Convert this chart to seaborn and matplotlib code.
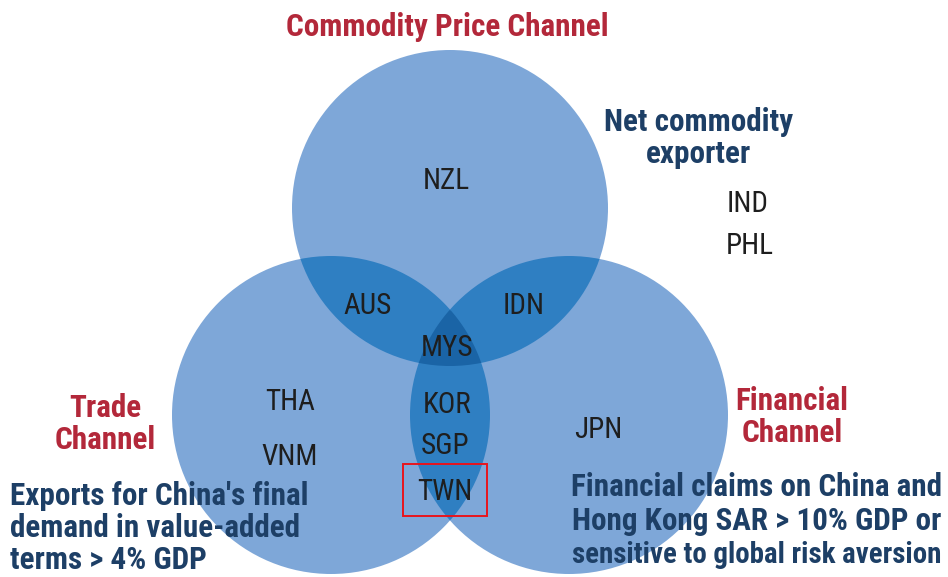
"""
Venn diagram of China spillover channels (commodity price / trade / financial).
"""

import numpy as np
import matplotlib
matplotlib.use("Agg")
import matplotlib.pyplot as plt
from matplotlib import font_manager
from matplotlib.patches import Circle, Polygon, Rectangle
import seaborn as sns


# Data
channel_names = ["Commodity Price Channel", "Trade Channel", "Financial Channel"]
channel_cx = [450, 331, 569]
channel_cy = [208, 415, 415]
channel_r = [158, 159, 159]

only_commodity = ["NZL"]
commodity_trade = ["AUS"]
commodity_financial = ["IDN"]
all_three = ["MYS"]
trade_financial = ["KOR", "SGP", "TWN"]
only_trade = ["THA", "VNM"]
only_financial = ["JPN"]
outside = ["IND", "PHL"]
highlighted = "TWN"

commodity_note = ["Net commodity", "exporter"]
trade_note = ["Exports for China's final", "demand in value-added", "terms > 4% GDP"]
financial_note = ["Financial claims on China and", "Hong Kong SAR > 10% GDP or",
                  "sensitive to global risk aversion"]

# Style
sns.set_theme(style="white")


def _pick_font():
    for name in ["Liberation Sans Narrow", "Roboto Condensed", "Open Sans Condensed"]:
        try:
            font_manager.findfont(name, fallback_to_default=False)
            return name
        except Exception:
            continue
    return "Liberation Sans"


FONT = _pick_font()
plt.rcParams["font.family"] = [FONT, "DejaVu Sans"]

SINGLE = "#7EA7D8"
DOUBLE = "#2F7FC2"
TRIPLE = "#1A64A6"
RED = "#B3283A"
NAVY = "#1D3F66"
INK = "#1E1E1E"

fig = plt.figure(figsize=(9.48, 5.77), dpi=100)
ax = fig.add_axes([0, 0, 1, 1])
ax.set_xlim(0, 948)
ax.set_ylim(577, 0)
ax.axis("off")

# single-layer discs
for cx, cy, r in zip(channel_cx, channel_cy, channel_r):
    ax.add_patch(Circle((cx, cy), r, color=SINGLE, lw=0, zorder=1))

# pairwise overlaps: disc i clipped to disc j
for i in range(3):
    for j in range(i + 1, 3):
        clip = Circle((channel_cx[j], channel_cy[j]), channel_r[j],
                      transform=ax.transData, fill=False, lw=0)
        ax.add_patch(clip)
        p = Circle((channel_cx[i], channel_cy[i]), channel_r[i],
                   color=DOUBLE, lw=0, zorder=2)
        ax.add_patch(p)
        p.set_clip_path(clip)

# triple overlap: lens of trade & financial discs, clipped to commodity disc
t = np.linspace(0, 2 * np.pi, 720)
pts = []
for k in (1, 2):
    other = 3 - k
    xs = channel_cx[k] + channel_r[k] * np.cos(t)
    ys = channel_cy[k] + channel_r[k] * np.sin(t)
    inside = (xs - channel_cx[other]) ** 2 + (ys - channel_cy[other]) ** 2 <= channel_r[other] ** 2
    pts.append(np.column_stack([xs[inside], ys[inside]]))
lens = np.vstack(pts)
lc = lens.mean(axis=0)
lens = lens[np.argsort(np.arctan2(lens[:, 1] - lc[1], lens[:, 0] - lc[0]))]
clip_top = Circle((channel_cx[0], channel_cy[0]), channel_r[0],
                  transform=ax.transData, fill=False, lw=0)
ax.add_patch(clip_top)
tri = Polygon(lens, closed=True, color=TRIPLE, lw=0, zorder=3)
ax.add_patch(tri)
tri.set_clip_path(clip_top)

# channel titles
title_kw = dict(color=RED, fontweight="bold", fontsize=22.4, ha="center", va="center", zorder=5)
ax.text(447, 27, channel_names[0], **title_kw)
ax.text(105, 424, channel_names[1].replace(" ", "\n"), linespacing=1.12, **title_kw)
ax.text(792, 417, channel_names[2].replace(" ", "\n"), linespacing=1.12, **title_kw)

# notes
note_kw = dict(color=NAVY, fontweight="bold", va="center", zorder=5)
ax.text(699, 138, "\n".join(commodity_note), ha="center", linespacing=1.12,
        fontsize=22.4, **note_kw)
ax.text(10, 528, "\n".join(trade_note), ha="left", linespacing=1.1,
        fontsize=22.4, **note_kw)
for line, y, fs in zip(financial_note, [487, 521, 555], [22.4, 22.4, 20.8]):
    ax.text(757, y, line, ha="center", fontsize=fs, **note_kw)

# country labels
label_pos = {
    "NZL": (446, 181), "AUS": (368, 306), "IDN": (524, 306), "MYS": (447, 348),
    "KOR": (447, 405), "SGP": (445, 446), "TWN": (445, 492),
    "THA": (290, 402), "VNM": (290, 457), "JPN": (598, 430),
    "IND": (748, 204), "PHL": (750, 246),
}
groups = [only_commodity, commodity_trade, commodity_financial, all_three,
          trade_financial, only_trade, only_financial, outside]
for g in groups:
    for name in g:
        x, y = label_pos[name]
        ax.text(x, y, name, color=INK, fontsize=21, ha="center", va="center", zorder=5)

# highlight box
hx, hy = label_pos[highlighted]
ax.add_patch(Rectangle((hx - 42, hy - 28), 84, 52, fill=False,
                       edgecolor="#E8141C", lw=1.4, zorder=6))

fig.savefig("out.png", dpi=100)
plt.close(fig)
